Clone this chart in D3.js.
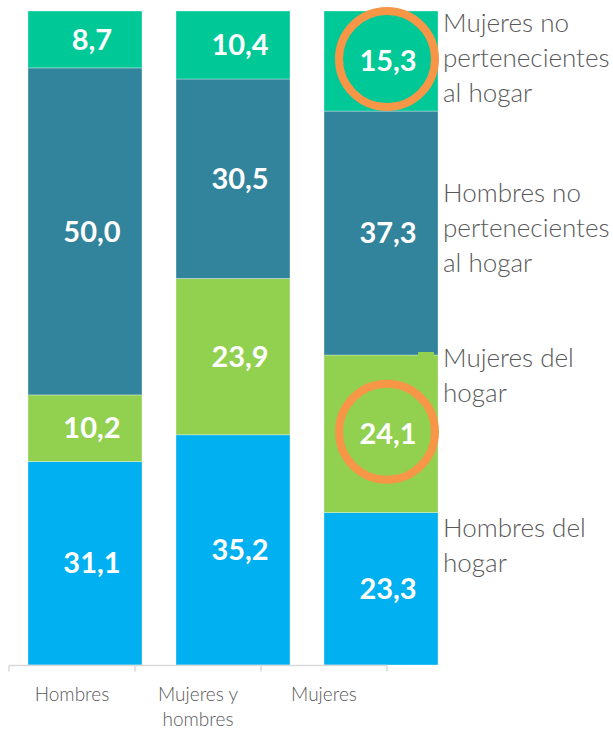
<!DOCTYPE html>
<html>
<head>
<meta charset="utf-8">
<script src="https://cdn.jsdelivr.net/npm/d3@7"></script>
<style>
  body { margin: 0; background: #fff; }
  svg { display: block; }
</style>
</head>
<body>
<div id="chart"></div>
<script>
// categories (bottom axis)
var categories = ["Hombres", "Mujeres y hombres", "Mujeres"];
var categoryLines = [["Hombres"], ["Mujeres y", "hombres"], ["Mujeres"]];

// series, bottom to top
var seriesNames = ["Hombres del hogar", "Mujeres del hogar",
                   "Hombres no pertenecientes al hogar", "Mujeres no pertenecientes al hogar"];
var seriesLines = [["Hombres del", "hogar"], ["Mujeres del", "hogar"],
                   ["Hombres no", "pertenecientes", "al hogar"], ["Mujeres no", "pertenecientes", "al hogar"]];

var hombresDelHogar   = [31.1, 35.2, 23.3];
var mujeresDelHogar   = [10.2, 23.9, 24.1];
var hombresNoHogar    = [50.0, 30.5, 37.3];
var mujeresNoHogar    = [8.7, 10.4, 15.3];

// highlighted values (circled)
var highlighted = [
    {category: "Mujeres", series: "Mujeres no pertenecientes al hogar"},
    {category: "Mujeres", series: "Mujeres del hogar"}
];

var width = 613, height = 729;
var colors = ["#00B0F0", "#92D050", "#31849B", "#00C997"];

var svg = d3.select("#chart").append("svg")
    .attr("width", width)
    .attr("height", height);

// build rows for the stack
var rows = categories.map(function (c, i) {
    var r = {category: c};
    r[seriesNames[0]] = hombresDelHogar[i];
    r[seriesNames[1]] = mujeresDelHogar[i];
    r[seriesNames[2]] = hombresNoHogar[i];
    r[seriesNames[3]] = mujeresNoHogar[i];
    return r;
});

var stacked = d3.stack().keys(seriesNames)(rows);

var x = d3.scaleBand()
    .domain(categories)
    .range([28, 438])
    .paddingInner(0.23)
    .paddingOuter(0);

// the axis sits a little offset from the bars (as in the original)
var xAxis = d3.scaleBand()
    .domain(categories)
    .range([9, 387]);

var y = d3.scaleLinear()
    .domain([0, 100])
    .range([665, 11]);

// bars
var layers = svg.selectAll("g.layer")
    .data(stacked)
    .enter()
    .append("g")
    .attr("class", "layer")
    .style("fill", function (d, i) { return colors[i]; });

layers.selectAll("rect")
    .data(function (d) { return d; })
    .enter()
    .append("rect")
    .attr("x", function (d) { return x(d.data.category); })
    .attr("y", function (d) { return y(d[1]); })
    .attr("width", x.bandwidth())
    .attr("height", function (d) { return y(d[0]) - y(d[1]); })
    .style("stroke", "#fff")
    .style("stroke-width", 0.8)
    .style("stroke-opacity", 0.4);

// leftover legend swatch peeking out next to the third bar
var lastCat = categories[categories.length - 1];
var greenTop = y(stacked[1][2][1]);
svg.append("rect")
    .attr("x", x(lastCat) + x.bandwidth() - 20)
    .attr("y", greenTop - 3)
    .attr("width", 16)
    .attr("height", 4)
    .style("fill", colors[1]);

// value labels
layers.selectAll("text")
    .data(function (d) { return d; })
    .enter()
    .append("text")
    .attr("x", function (d) { return x(d.data.category) + x.bandwidth() / 2 + 7; })
    .attr("y", function (d) { return (y(d[0]) + y(d[1])) / 2; })
    .attr("dy", "0.35em")
    .attr("text-anchor", "middle")
    .style("fill", "#fff")
    .style("font-family", "Lato, 'Open Sans', sans-serif")
    .style("font-weight", 700)
    .style("font-size", "29px")
    .text(function (d) { return d3.format(".1f")(d[1] - d[0]).replace(".", ","); });

// orange circles around the highlighted values
highlighted.forEach(function (h) {
    var si = seriesNames.indexOf(h.series);
    var ci = categories.indexOf(h.category);
    var seg = stacked[si][ci];
    svg.append("circle")
        .attr("cx", x(h.category) + x.bandwidth() / 2 + 6)
        .attr("cy", (y(seg[0]) + y(seg[1])) / 2 - 2)
        .attr("r", 48)
        .style("fill", "none")
        .style("stroke", "#F79646")
        .style("stroke-width", 8);
});

// series labels at the right of the last bar
var legendOffsets = [24, 12, 91, 21];
var legendX = x(lastCat) + x.bandwidth() + 5;
seriesLines.forEach(function (lines, i) {
    var top = y(stacked[i][2][1]);
    var t = svg.append("text")
        .attr("x", legendX)
        .attr("y", top + legendOffsets[i])
        .style("fill", "#595959")
        .style("font-family", "Lato, 'Open Sans', sans-serif")
        .style("font-weight", 300)
        .style("font-size", "26px");
    lines.forEach(function (l, j) {
        t.append("tspan")
            .attr("x", legendX)
            .attr("dy", j === 0 ? 0 : 35)
            .text(l);
    });
});

// category axis
var axisY = y(0) + 0.5;
var axis = svg.append("g").attr("class", "axis");
axis.append("line")
    .attr("x1", xAxis.range()[0])
    .attr("x2", xAxis.range()[1])
    .attr("y1", axisY)
    .attr("y2", axisY)
    .style("stroke", "#D9D9D9")
    .style("stroke-width", 1.5);

var tickPos = categories.map(function (c) { return xAxis(c); }).concat([xAxis.range()[1]]);
axis.selectAll("line.tick")
    .data(tickPos)
    .enter()
    .append("line")
    .attr("class", "tick")
    .attr("x1", function (d) { return d; })
    .attr("x2", function (d) { return d; })
    .attr("y1", axisY)
    .attr("y2", axisY + 6)
    .style("stroke", "#D9D9D9")
    .style("stroke-width", 1.5);

categoryLines.forEach(function (lines, i) {
    var cx = xAxis(categories[i]) + xAxis.bandwidth() / 2;
    var t = axis.append("text")
        .attr("x", cx)
        .attr("y", 701)
        .attr("text-anchor", "middle")
        .style("fill", "#595959")
        .style("font-family", "Lato, 'Open Sans', sans-serif")
        .style("font-weight", 300)
        .style("font-size", "19px");
    lines.forEach(function (l, j) {
        t.append("tspan")
            .attr("x", cx)
            .attr("dy", j === 0 ? 0 : 25)
            .text(l);
    });
});
</script>
</body>
</html>
